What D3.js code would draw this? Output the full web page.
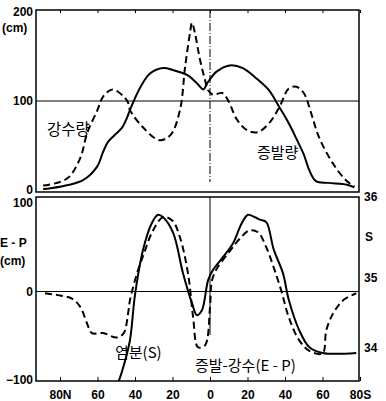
<!DOCTYPE html>
<html><head><meta charset="utf-8">
<script src="https://cdn.jsdelivr.net/npm/d3@7"></script>
<style>body{margin:0;background:#fff}</style>
</head><body><svg id="c" width="386" height="401"></svg>
<script>
// ---- data ----
const latTicks = [80, 60, 40, 20, 0, -20, -40, -60, -80];
const latTickLabels = ["80N", "60", "40", "20", "0", "20", "40", "60", "80S"];
const cmTicks = [0, 100, 200];
const epTicks = [-100, 0, 100];
const epTickLabels = ["\u2212100", "0", "100"];
const salTicks = [34, 35, 36];

// 증발량 (evaporation, cm) - solid
const evapLat = [89, 85, 75, 67.7, 60.3, 57, 54.4, 50.7, 46.9, 44.3, 42.7, 37, 32, 25, 20, 12, 7, 3.5, 1.5, -3.5, -10.5, -17.5, -25, -31.5, -37, -42, -46, -50, -53, -56.5, -63, -73, -77];
const evapVal = [1, 2, 6, 11, 26, 43, 54, 62, 70, 81, 90, 116, 131, 137, 135, 129, 120, 113, 120, 133, 140, 137, 125, 112, 93, 75, 58, 40, 22, 10, 8, 6, 3];

// 강수량 (precipitation, cm) - dashed
const precLat = [89, 80, 75, 69, 65.5, 60, 57, 52, 46, 43.7, 42.7, 36, 27, 21, 16, 13.3, 10.7, 9.6, 8, 5.3, 2.7, 1, -1.6, -6.4, -9.6, -14.4, -20, -25.5, -31.5, -37, -42, -46, -50, -54, -58, -65.5, -72.5, -77];
const precVal = [5, 9, 15, 37, 64, 90, 105, 113, 105, 98, 90, 71, 56, 62, 90, 138, 176, 188, 176, 146, 124, 112, 107, 109, 101, 79, 67, 65, 75, 93, 114, 116, 109, 86, 60, 30, 11, 4];

// 증발-강수 (E-P, cm) - dashed
const epLat = [88, 80, 73.6, 69, 65.6, 63, 57, 49.6, 46, 43.7, 42.7, 39, 34.7, 30.4, 25, 20, 16, 11.7, 9, 6.4, 2.7, 0, -1, -3.7, -10.7, -16, -21, -25.6, -30, -34, -38, -42, -47.5, -53, -60, -62, -65.6, -71, -78];
const epVal = [-2, -4.5, -8, -18, -36, -47, -47, -52, -47, -25, -10, 20, 46, 69, 84, 80, 61, 20, -29, -63, -61, -18, 12, 26, 46, 60, 69, 67, 50, 27, 1, -29, -55, -67, -70, -44, -25, -10, -2];

// 염분 (salinity S) - solid
const salLat = [52, 48.5, 45.9, 42.7, 40, 35.7, 31, 27.7, 25, 19.7, 14.4, 9.6, 7, 4.3, 1, -1.6, -7, -12.3, -17, -20.3, -24, -26.7, -30, -34, -38.9, -42, -47.5, -53, -60, -78];
const salVal = [33.33, 33.54, 33.76, 34.11, 34.76, 35.35, 35.68, 35.78, 35.75, 35.56, 35.06, 34.64, 34.47, 34.54, 34.97, 35.10, 35.26, 35.43, 35.68, 35.78, 35.75, 35.72, 35.69, 35.35, 35.06, 34.69, 34.26, 34.01, 33.93, 33.93];

// ---- layout ----
const svg = d3.select("#c");
const FL = 36, FR = 359;
const top1 = 10, bot1 = 192, top2 = 197, bot2 = 381;
const x = d3.scaleLinear().domain([80, -80]).range([60, 360]);
const yTop = d3.scaleLinear().domain([0, 200]).range([190, 12]);
const yEP = d3.scaleLinear().domain([-100, 100]).range([380, 203]);
const yS = d3.scaleLinear().domain([34, 35, 36]).range([348, 278, 197]);

const numFont = "'Liberation Sans', Arial, sans-serif";
const krFont = "'Noto Sans CJK KR', sans-serif";

const defs = svg.append("defs");
defs.append("clipPath").attr("id", "clip1").append("rect")
  .attr("x", FL).attr("y", top1).attr("width", FR - FL).attr("height", bot1 - top1);
defs.append("clipPath").attr("id", "clip2").append("rect")
  .attr("x", FL).attr("y", top2).attr("width", FR - FL).attr("height", bot2 - top2);

// frames
[[top1, bot1], [top2, bot2]].forEach(([t, b]) => {
  svg.append("rect").attr("x", FL).attr("y", t).attr("width", FR - FL).attr("height", b - t)
    .attr("fill", "none").attr("stroke", "#000").attr("stroke-width", 1.5);
});

// reference lines
svg.append("line").attr("x1", FL).attr("x2", FR).attr("y1", yTop(100)).attr("y2", yTop(100))
  .attr("stroke", "#000").attr("stroke-width", 1);
svg.append("line").attr("x1", x(0)).attr("x2", x(0)).attr("y1", top1).attr("y2", 182)
  .attr("stroke", "#000").attr("stroke-width", 1).attr("stroke-dasharray", "8,2,1,2");
svg.append("line").attr("x1", FL).attr("x2", FR).attr("y1", yEP(0)).attr("y2", yEP(0))
  .attr("stroke", "#000").attr("stroke-width", 1);
svg.append("line").attr("x1", x(0)).attr("x2", x(0)).attr("y1", top2).attr("y2", 335)
  .attr("stroke", "#000").attr("stroke-width", 1);

// x axis (bottom of lower panel)
const xAxis = d3.axisBottom(x).tickValues(latTicks)
  .tickFormat((d, i) => latTickLabels[i]).tickSizeInner(-4).tickSizeOuter(0).tickPadding(9);
const gx = svg.append("g").attr("transform", `translate(0,${bot2})`).call(xAxis);
gx.select(".domain").remove();
gx.selectAll("text").attr("font-family", numFont).attr("font-weight", "bold").attr("font-size", 12).attr("fill", "#000");
// small ticks on top border of upper panel
const gxt = svg.append("g").attr("transform", `translate(0,${top1})`)
  .call(d3.axisTop(x).tickValues(latTicks).tickSizeInner(-3).tickSizeOuter(0).tickFormat(""));
gxt.select(".domain").remove();

// left axis upper
const gy1 = svg.append("g").attr("transform", `translate(${FL},0)`)
  .call(d3.axisLeft(yTop).tickValues(cmTicks).tickSizeInner(0).tickSizeOuter(0).tickPadding(3));
gy1.select(".domain").remove();
gy1.selectAll("text").attr("font-family", numFont).attr("font-weight", "bold").attr("font-size", 12).attr("fill", "#000");

// left axis lower
const gy2 = svg.append("g").attr("transform", `translate(${FL},0)`)
  .call(d3.axisLeft(yEP).tickValues(epTicks).tickFormat((d, i) => epTickLabels[i]).tickSizeInner(0).tickSizeOuter(0).tickPadding(3));
gy2.select(".domain").remove();
gy2.selectAll("text").attr("font-family", numFont).attr("font-weight", "bold").attr("font-size", 12).attr("fill", "#000");

// right axis salinity
const gy3 = svg.append("g").attr("transform", `translate(${FR},0)`)
  .call(d3.axisRight(yS).tickValues(salTicks).tickFormat(d3.format("d")).tickSizeInner(0).tickSizeOuter(0).tickPadding(5));
gy3.select(".domain").remove();
gy3.selectAll("text").attr("font-family", numFont).attr("font-weight", "bold").attr("font-size", 12).attr("fill", "#000");

// unit labels
function txt(t, xx, yy, opts = {}) {
  return svg.append("text").attr("x", xx).attr("y", yy).text(t)
    .attr("font-family", opts.font || numFont).attr("font-weight", opts.weight || "bold")
    .attr("font-size", opts.size || 12).attr("text-anchor", opts.anchor || "start")
    .attr("dominant-baseline", "central").attr("fill", "#000");
}
txt("(cm)", 2, 28);
txt("E - P", 0, 243);
txt("(cm)", 0, 261);
txt("S", 365, 237);

// curves
const line = (ys) => d3.line().x(d => x(d[0])).y(d => ys(d[1])).curve(d3.curveCatmullRom.alpha(0.5));
function draw(lats, vals, ys, clip, dashed) {
  svg.append("path").datum(lats.map((l, i) => [l, vals[i]]))
    .attr("d", line(ys)).attr("fill", "none").attr("stroke", "#000")
    .attr("stroke-width", 2).attr("clip-path", `url(#${clip})`)
    .attr("stroke-dasharray", dashed ? "7,4" : null);
}
draw(evapLat, evapVal, yTop, "clip1", false);
draw(precLat, precVal, yTop, "clip1", true);
draw(epLat, epVal, yEP, "clip2", true);
draw(salLat, salVal, yS, "clip2", false);

// series labels
txt("강수량", 47, 128, {font: krFont, weight: "normal", size: 15.5});
txt("증발량", 257, 151, {font: krFont, weight: "normal", size: 15});
txt("염분(S)", 115, 351, {font: krFont, weight: "normal", size: 15});
txt("증발-강수(E - P)", 195, 364, {font: krFont, weight: "normal", size: 15});
</script>
</body></html>
